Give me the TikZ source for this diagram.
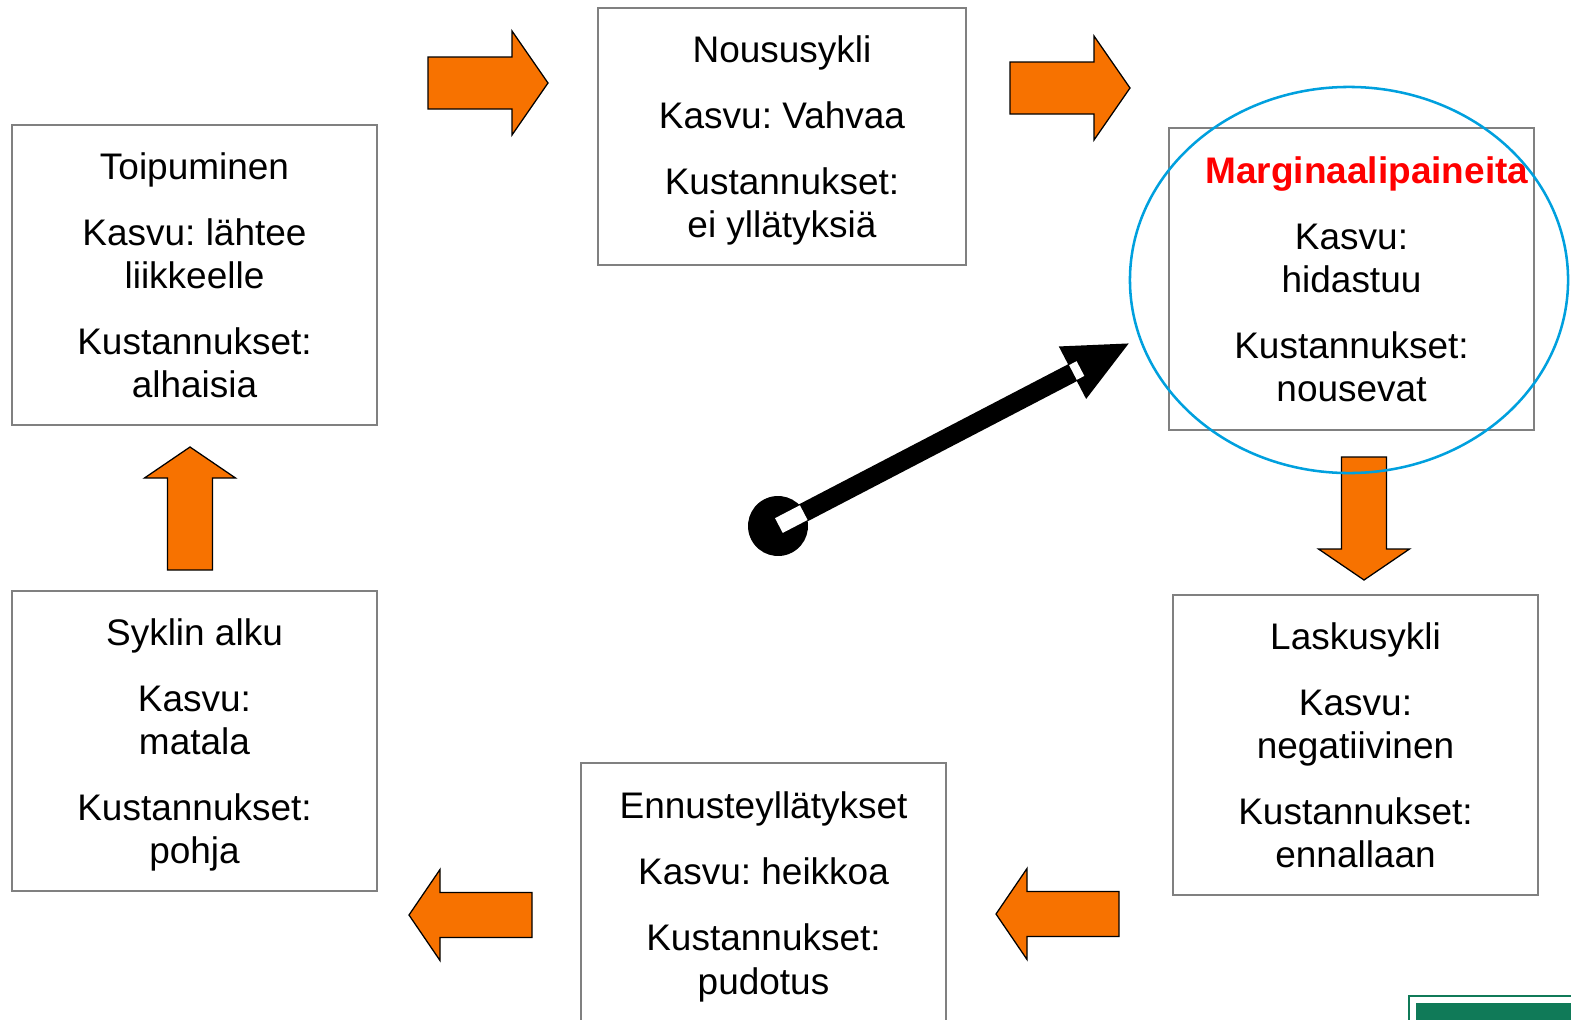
\documentclass[tikz,border=0pt]{standalone}
\usepackage{amsmath}
\usepackage{fontspec}
\setmainfont{Liberation Sans}
\usetikzlibrary{positioning}
\definecolor{arroworange}{RGB}{247,114,0}
\definecolor{ringblue}{RGB}{0,160,222}
\definecolor{logogreen}{RGB}{16,122,88}
\definecolor{boxgray}{RGB}{128,128,128}
\tikzstyle{phase}=[rectangle,
	line width=1.3pt,
	draw=boxgray,
	inner sep=0pt,
	align=center,
	minimum width=9.125cm,
	minimum height=7.5cm,
	font=\fontsize{26.3}{30.6}\selectfont\frenchspacing]
\tikzstyle{blockarrow}=[fill=arroworange,
	draw=black,
	line width=0.9pt]
\tikzstyle{ring}=[draw=ringblue,
	line width=1.8pt]
\tikzset{bigarrow/.pic={\draw[blockarrow] (0,0) -- (-36,-52) -- (-36,-26) -- (-120,-26) -- (-120,26) -- (-36,26) -- (-36,52) -- cycle;},
	smallarrow/.pic={\draw[blockarrow] (0,0) -- (-31,-45.5) -- (-31,-22.5) -- (-123,-22.5) -- (-123,22.5) -- (-31,22.5) -- (-31,45.5) -- cycle;}}
\begin{document}
\begin{tikzpicture}[x=0.025cm,y=-0.025cm]
				\useasboundingbox (0,0) rectangle (1571,1019);

				\node (toip) [phase] at (194.5,275) {Toipuminen\\[16.4pt]Kasvu: lähtee\\liikkeelle\\[16.4pt]Kustannukset:\\alhaisia};
				\node (alku) [phase, below of=toip, node distance=11.65cm] {Syklin alku\\[16.4pt]Kasvu:\\matala\\[16.4pt]Kustannukset:\\\smash[b]{pohja}};
				\node (nousu) [phase, minimum height=6.425cm, minimum width=9.2cm] at (782,136.5) {Noususykli\\[16.4pt]Kasvu: Vahvaa\\[16.4pt]Kustannukset:\\\smash[b]{ei yllätyksiä}};
				\node (marg) [phase, minimum height=7.55cm] at (1351.5,279) {\hspace*{0.775cm}\textcolor{red}{\textbf{Marginaalipaineita}}\\[16.4pt]Kasvu:\\hidastuu\\[16.4pt]Kustannukset:\\nousevat};
				\node (lasku) [phase, below of=marg, node distance=11.65cm, xshift=0.1cm] {Laskusykli\\[16.4pt]Kasvu:\\negatiivinen\\[16.4pt]Kustannukset:\\ennallaan};
				\node (ennuste) [phase, minimum height=6.5cm] at (763.5,893) {Ennusteyllätykset\\[16.4pt]Kasvu: heikkoa\\[16.4pt]Kustannukset:\\\smash[b]{pudotus}};

				% orange arrows round the cycle
				\path (548,83) pic {bigarrow};
				\path (1130,88) pic {bigarrow};
				\path (1364,580) pic[rotate=-90] {smallarrow};
				\path (996,914) pic[rotate=180] {smallarrow};
				\path (409,915) pic[rotate=180] {smallarrow};
				\path (190,447) pic[rotate=90] {smallarrow};

				% pointer
				\begin{scope}[shift={(778,526)}, rotate=27.5]
					\fill (0,0) circle [radius=0.75cm];
					\fill (0,-9.5) rectangle (333,9.5);
					\fill (332,-29.6) -- (395.4,0) -- (332,29.6) -- cycle;
					\fill[white] (1,-8.3) rectangle (29,8.3);
					\fill[white] (332.5,-8.3) rectangle (341,8.3);
				\end{scope}

				\draw[ring] (1349,280) ellipse [x radius=5.475cm, y radius=4.825cm];

				\draw[logogreen, line width=1pt] (1409,996) rectangle (1600,1040);
				\fill[logogreen] (1416,1003) rectangle (1600,1040);
			\end{tikzpicture}
\end{document}
